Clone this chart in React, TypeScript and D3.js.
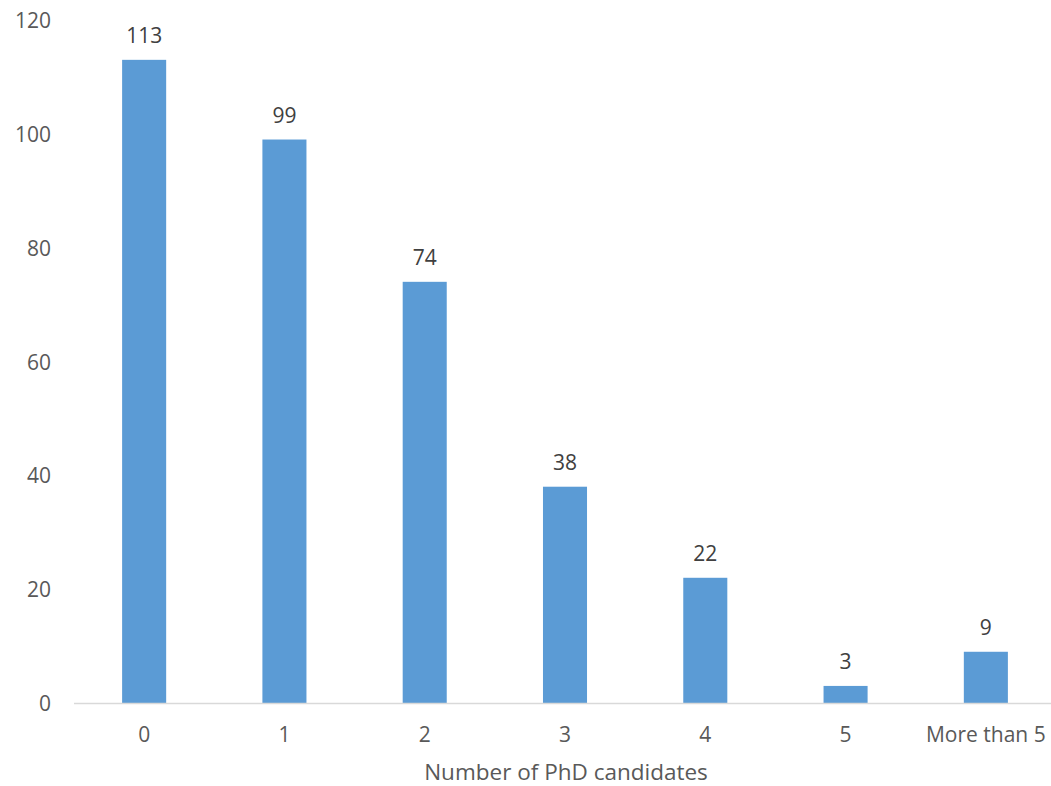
import React from "react";
import * as d3 from "d3";

const categories = ["0", "1", "2", "3", "4", "5", "More than 5"];
const counts = [113, 99, 74, 38, 22, 3, 9];
const yTicks = [0, 20, 40, 60, 80, 100, 120];

const W = 1051;
const H = 786;
const FONT = "'Open Sans', 'Noto Sans', sans-serif";
const TEXT = "#595959";

export default function App() {
  const x = d3
    .scaleBand<string>()
    .domain(categories)
    .range([74, 1056])
    .paddingInner(0.686)
    .paddingOuter(0.343);
  const y = d3.scaleLinear().domain([0, 120]).range([703, 20]);

  return (
    <svg
      width={W}
      height={H}
      style={{ position: "absolute", left: 0, top: 0, background: "#fff" }}
      fontFamily={FONT}
    >
      {yTicks.map((t) => (
        <text
          key={t}
          x={51}
          y={y(t)}
          textAnchor="end"
          dominantBaseline="central"
          fontSize={21}
          fill={TEXT}
        >
          {t}
        </text>
      ))}
      {categories.map((c, i) => (
        <g key={c}>
          <rect
            x={x(c)}
            y={y(counts[i])}
            width={x.bandwidth()}
            height={y(0) - y(counts[i])}
            fill="#5b9bd5"
          />
          <text
            x={(x(c) as number) + x.bandwidth() / 2}
            y={y(counts[i]) - 25}
            textAnchor="middle"
            dominantBaseline="central"
            fontSize={21}
            fill="#404040"
          >
            {counts[i]}
          </text>
          <text
            x={(x(c) as number) + x.bandwidth() / 2}
            y={734}
            textAnchor="middle"
            dominantBaseline="central"
            fontSize={21}
            fill={TEXT}
          >
            {c}
          </text>
        </g>
      ))}
      <line x1={74} x2={W} y1={y(0) + 0.5} y2={y(0) + 0.5} stroke="#d9d9d9" strokeWidth={1.5} />
      <text
        x={566}
        y={780}
        textAnchor="middle"
        fontSize={22.5}
        fill={TEXT}
      >
        Number of PhD candidates
      </text>
    </svg>
  );
}
